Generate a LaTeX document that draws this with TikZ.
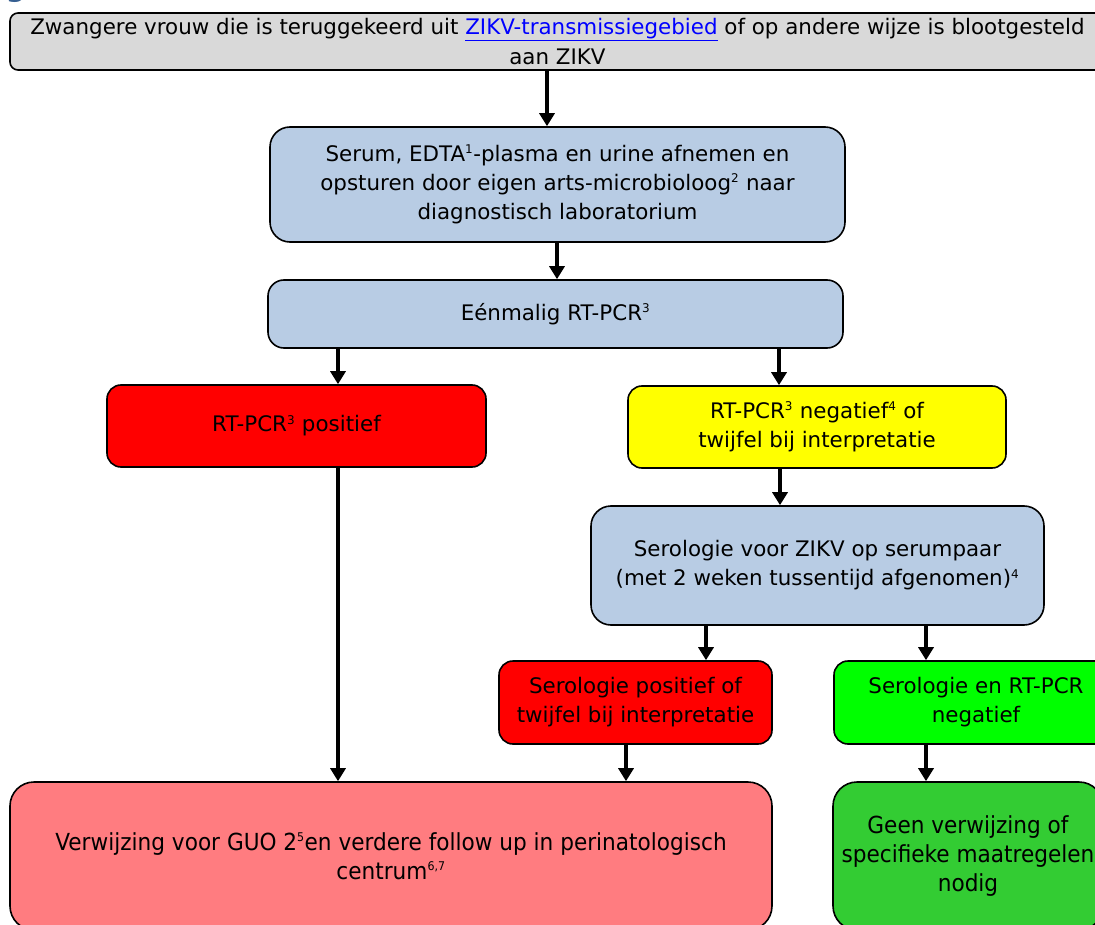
\documentclass[tikz,border=0pt]{standalone}
\usepackage{fontspec}
\setmainfont{DejaVu Sans}
\usetikzlibrary{arrows.meta}
\definecolor{boxgray}{HTML}{D9D9D9}
\definecolor{boxblue}{HTML}{B8CCE4}
\definecolor{boxred}{HTML}{FF0000}
\definecolor{boxyellow}{HTML}{FFFF00}
\definecolor{boxgreen}{HTML}{00FF00}
\definecolor{boxpink}{HTML}{FF7C80}
\definecolor{boxdkgreen}{HTML}{33CC33}
\definecolor{linkblue}{HTML}{0000FF}
\definecolor{headblue}{HTML}{365F91}
\newcommand{\zlink}[1]{\textcolor{linkblue}{\underline{#1}}}
\newcommand{\sps}[1]{\textsuperscript{\fontsize{12}{12}\selectfont #1}}
\newcommand{\tallline}[1]{\scalebox{0.92}[1.0]{\fontsize{23.5}{30}\selectfont #1}}
\tikzset{
  box/.style={draw=black, line width=1.6pt, align=center, inner sep=0pt,
    rounded corners=14pt, font=\fontsize{21.4}{29}\selectfont},
  arr/.style={line width=3.6pt, -{Triangle[width=15pt,length=13pt]}},
}
\begin{document}
\begin{tikzpicture}[x=1pt,y=-1pt]
\useasboundingbox (0,0) rectangle (1095,925);
\clip (0,0) rectangle (1095,925);
\fill[white] (0,0) rectangle (1095,925);
\node[anchor=base, text=headblue, font=\bfseries\fontsize{28}{30}\selectfont] (frag) at (16,-3) {g};

\node[box, fill=boxgray, rounded corners=8pt, minimum width=1095pt, minimum height=57pt, font=\fontsize{21.4}{30}\selectfont] (top) at (557.5,41.5)
  {Zwangere vrouw die is teruggekeerd uit \zlink{ZIKV-transmissiegebied} of op andere wijze is blootgesteld\\aan ZIKV};
\node[box, fill=boxblue, rounded corners=20pt, minimum width=575pt, minimum height=115pt] (serum) at (557.5,184.5)
  {Serum, EDTA\sps{1}-plasma en urine afnemen en\\opsturen door eigen arts-microbioloog\sps{2} naar\\diagnostisch laboratorium};
\node[box, fill=boxblue, rounded corners=16pt, minimum width=575pt, minimum height=68pt] (once) at (555.5,314)
  {Eénmalig RT-PCR\sps{3}};
\node[box, fill=boxred, minimum width=379pt, minimum height=82pt] (pos) at (296.5,426)
  {RT-PCR\sps{3} positief};
\node[box, fill=boxyellow, minimum width=378pt, minimum height=82pt] (neg) at (817,427)
  {RT-PCR\sps{3} negatief\sps{4} of\\twijfel bij interpretatie};
\node[box, fill=boxblue, rounded corners=20pt, minimum width=453pt, minimum height=119pt] (sero) at (817.5,565.5)
  {Serologie voor ZIKV op serumpaar\\(met 2 weken tussentijd afgenomen)\sps{4}};
\node[box, fill=boxred, minimum width=273pt, minimum height=83pt] (seropos) at (635.5,702.5)
  {Serologie positief of\\twijfel bij interpretatie};
\node[box, fill=boxgreen, minimum width=284pt, minimum height=83pt] (seroneg) at (976,702.5)
  {Serologie en RT-PCR\\negatief};
\node[box, fill=boxpink, rounded corners=24pt, minimum width=762pt, minimum height=148pt] (refer) at (391,856)
  {\tallline{Verwijzing voor GUO 2\sps{5}en verdere follow up in perinatologisch}\\\tallline{centrum\sps{6,7}}};
\node[box, fill=boxdkgreen, rounded corners=24pt, minimum width=270pt, minimum height=148pt] (noref) at (968,856)
  {\tallline{Geen verwijzing of}\\\tallline{specifieke maatregelen}\\\tallline{nodig}};

\draw[arr] (547,0 |- top.south) -- (547,0 |- serum.north);
\draw[arr] (557,0 |- serum.south) -- (557,0 |- once.north);
\draw[arr] (338,0 |- once.south) -- (338,0 |- pos.north);
\draw[arr] (779,0 |- once.south) -- (779,0 |- neg.north);
\draw[arr] (780,0 |- neg.south) -- (780,0 |- sero.north);
\draw[arr] (706,0 |- sero.south) -- (706,0 |- seropos.north);
\draw[arr] (926,0 |- sero.south) -- (926,0 |- seroneg.north);
\draw[arr] (338,0 |- pos.south) -- (338,0 |- refer.north);
\draw[arr] (626,0 |- seropos.south) -- (626,0 |- refer.north);
\draw[arr] (926,0 |- seroneg.south) -- (926,0 |- noref.north);
\end{tikzpicture}
\end{document}
